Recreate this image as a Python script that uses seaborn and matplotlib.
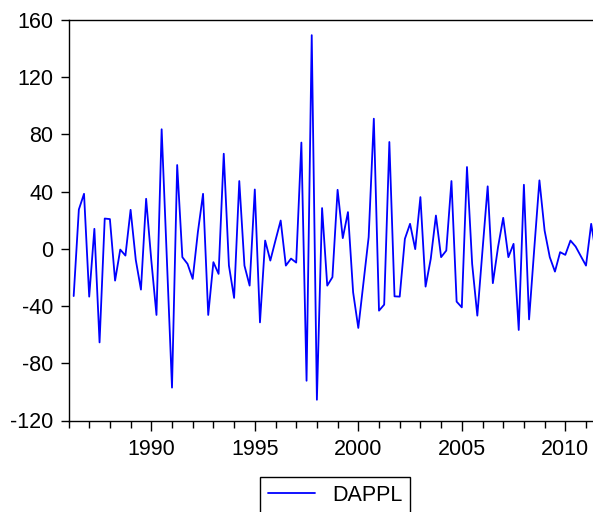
import numpy as np
import pandas as pd
import matplotlib
matplotlib.use("Agg")
import matplotlib.pyplot as plt
import seaborn as sns
from matplotlib.ticker import MultipleLocator

# DAPPL, quarterly, starting 1986Q2
start_year = 1986.25
dappl = [-33, 27.5, 38.5, -33.4, 14, -65.4, 21.2, 20.8, -22.2, -0.5,
         -4.7, 27.3, -7.7, -28.5, 35, -8, -46.2, 83.6, -6.5, -97,
         58.6, -5.8, -10.5, -21, 11.7, 38.5, -46.2, -9.3, -17.5, 66.5,
         -11.7, -34.3, 47.4, -11.7, -25.7, 41.5, -51.4, 5.8, -8.2, 6,
         19.8, -11.7, -6.8, -9.6, 74.3, -92.2, 149.4, -105.5, 28.5, -25.7,
         -19.8, 41.3, 7.5, 25.7, -30.4, -55.3, -23.6, 8.2, 91, -43.2,
         -39, 74.7, -33.2, -33.4, 7, 17.5, -0.2, 36.2, -26.4, -7,
         23.3, -5.8, -1.2, 47.4, -36.9, -40.9, 57.2, -10.5, -46.7, -1,
         43.7, -24, 1.2, 21.7, -5.8, 3.5, -56.7, 44.8, -49.3, 0,
         47.9, 12.8, -5.8, -15.9, -2.3, -4.2, 5.8, 1.6, -5.1, -11.7,
         17.5, -5]
year_ticks = [1990, 1995, 2000, 2005, 2010]
y_ticks = [-120, -80, -40, 0, 40, 80, 120, 160]

df = pd.DataFrame({"date": start_year + 0.25 * np.arange(len(dappl)),
                   "DAPPL": dappl})

sns.set_style("ticks")
plt.rcParams["font.family"] = ["Liberation Sans", "DejaVu Sans"]
plt.rcParams["font.size"] = 15.5
plt.rcParams["axes.unicode_minus"] = False
plt.rcParams["text.color"] = "black"

fig = plt.figure(figsize=(5.93, 5.12), dpi=100)
ax = fig.add_axes([68.5 / 593, 1 - 420.5 / 512, 524.5 / 593, 400.5 / 512])

sns.lineplot(data=df, x="date", y="DAPPL", color="#0000ff", linewidth=1.3,
             ax=ax, label="DAPPL", legend=False)

ax.set_xlim(1986.0, 1986.0 + 524.5 / 20.7)
ax.set_ylim(-120, 160)
ax.set_xticks(year_ticks)
ax.set_xticklabels([str(y) for y in year_ticks])
ax.xaxis.set_minor_locator(MultipleLocator(1))
ax.set_yticks(y_ticks)
ax.set_xlabel("")
ax.set_ylabel("")

for side in ["left", "bottom", "top"]:
    ax.spines[side].set_color("black")
    ax.spines[side].set_linewidth(1.0)
ax.spines["right"].set_visible(False)
ax.tick_params(axis="both", which="major", direction="out", length=6,
               width=1.0, color="black", labelcolor="black",
               labelsize=15.5, pad=5)
ax.tick_params(axis="x", which="minor", direction="out", length=5,
               width=1.0, color="black")
ax.tick_params(axis="x", which="major", length=7, pad=6)

leg = fig.legend(handles=ax.get_lines(), labels=["DAPPL"],
                 loc="upper center", bbox_to_anchor=(335 / 593, 1 - 477 / 512),
                 borderaxespad=0, fancybox=False, framealpha=1,
                 edgecolor="black", handlelength=2.2, borderpad=0.35,
                 fontsize=15.5)
leg.get_frame().set_linewidth(1.0)
for t in leg.get_texts():
    t.set_color("black")

fig.savefig("out.png", dpi=100)
